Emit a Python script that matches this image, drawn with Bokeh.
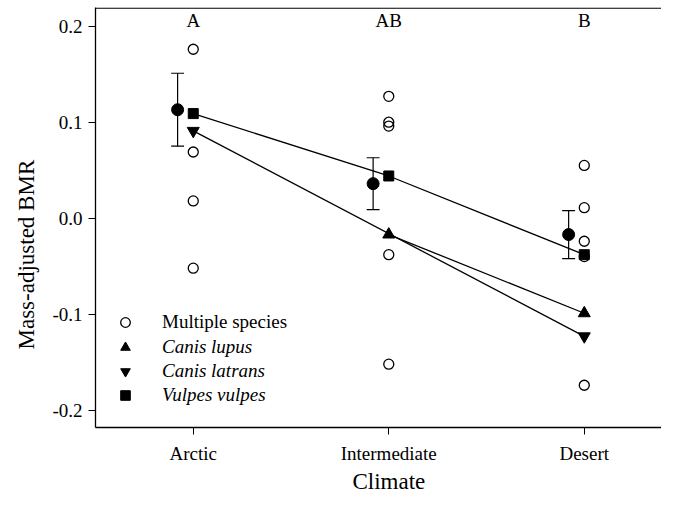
from bokeh.plotting import figure
from bokeh.models import (Range1d, FixedTicker, Span, Legend, LegendItem, Title)
from bokeh.core.properties import value
from bokeh.embed import file_html
from bokeh.resources import INLINE

FONT = "Liberation Serif"

# ---------------- data ----------------
categories = ["Arctic", "Intermediate", "Desert"]
letters = ["A", "AB", "B"]

arctic_multi = [0.176, 0.069, 0.018, -0.052]
intermediate_multi = [0.127, 0.100, 0.096, -0.038, -0.152]
desert_multi = [0.055, 0.011, -0.024, -0.040, -0.174]

mean_vals = [0.113, 0.036, -0.017]
mean_upper = [0.151, 0.063, 0.008]
mean_lower = [0.075, 0.009, -0.042]

lupus_cats = ["Intermediate", "Desert"]
lupus_vals = [-0.017, -0.099]
latrans_cats = ["Arctic", "Desert"]
latrans_vals = [0.091, -0.123]
vulpes_cats = ["Arctic", "Intermediate", "Desert"]
vulpes_vals = [0.109, 0.044, -0.038]

y_tick_values = [-0.2, -0.1, 0.0, 0.1, 0.2]
y_tick_labels = ["-0.2", "-0.1", "0.0", "0.1", "0.2"]

# ---------------- layout constants ----------------
MEAN_OFFSET = -0.08
CAP_HALF = 0.033
LETTER_Y = 0.206
Y_TOP = 0.2195

pos = {c: i for i, c in enumerate(categories)}

p = figure(width=661, height=493, output_backend="svg", toolbar_location=None,
           x_range=Range1d(-0.5, 2.395), y_range=Range1d(-0.218, Y_TOP),
           min_border_left=95, min_border_right=0, min_border_top=7,
           min_border_bottom=65)
p.outline_line_color = None
p.grid.visible = False
p.background_fill_color = "white"
p.border_fill_color = "white"

xa = p.xaxis[0]
ya = p.yaxis[0]
xa.ticker = FixedTicker(ticks=list(range(len(categories))))
xa.major_label_overrides = {i: c for i, c in enumerate(categories)}
ya.ticker = FixedTicker(ticks=y_tick_values)
ya.major_label_overrides = dict(zip(y_tick_values, y_tick_labels))
for ax in (xa, ya):
    ax.axis_line_width = 1.3
    ax.axis_line_color = "black"
    ax.major_tick_line_width = 1.0
    ax.major_tick_line_color = "black"
    ax.major_tick_out = 7
    ax.major_tick_in = 0
    ax.minor_tick_line_color = None
    ax.major_label_text_font = FONT
    ax.major_label_text_font_size = "19px"
    ax.major_label_text_color = "black"
    ax.major_label_text_font_style = "normal"
xa.major_label_standoff = 8
ya.major_label_standoff = 6

# top frame line
p.add_layout(Span(location=Y_TOP - 0.0007, dimension="width", line_color="black",
                  line_width=1.3))

# axis titles as side titles
p.add_layout(Title(text="Climate", align="left", offset=257, vertical_align="bottom",
                   standoff=0, text_font=FONT, text_font_size="23px",
                   text_font_style="normal", text_color="black"), "below")
p.add_layout(Title(text="Mass-adjusted BMR", align="left", offset=78,
                   vertical_align="middle", standoff=20,
                   text_font=FONT, text_font_size="23px", text_font_style="normal",
                   text_color="black"), "left")

# lines
p.line(x=[pos[c] for c in vulpes_cats], y=vulpes_vals, line_color="black", line_width=1.3)
p.line(x=[pos[c] for c in latrans_cats], y=latrans_vals, line_color="black", line_width=1.3)
p.line(x=[pos[c] for c in lupus_cats], y=lupus_vals, line_color="black", line_width=1.3)

# multiple species open circles
mx, my = [], []
for cat, vals in zip(categories, [arctic_multi, intermediate_multi, desert_multi]):
    mx += [pos[cat]] * len(vals)
    my += vals
r_multi = p.scatter(x=mx, y=my, marker="circle", size=10, fill_color=None,
                    line_color="black", line_width=1.3)

# means with error bars
ex = [pos[c] + MEAN_OFFSET for c in categories]
p.segment(x0=ex, y0=mean_lower, x1=ex, y1=mean_upper, line_color="black", line_width=1.2)
p.segment(x0=[x - CAP_HALF for x in ex], y0=mean_upper,
          x1=[x + CAP_HALF for x in ex], y1=mean_upper, line_color="black", line_width=1.2)
p.segment(x0=[x - CAP_HALF for x in ex], y0=mean_lower,
          x1=[x + CAP_HALF for x in ex], y1=mean_lower, line_color="black", line_width=1.2)
p.scatter(x=ex, y=mean_vals, marker="circle", size=12,
          fill_color="black", line_color="black")

r_lupus = p.scatter(x=[pos[c] for c in lupus_cats], y=lupus_vals, marker="triangle",
                    size=12, fill_color="black", line_color="black")
r_latrans = p.scatter(x=[pos[c] for c in latrans_cats], y=latrans_vals,
                      marker="inverted_triangle", size=12, fill_color="black",
                      line_color="black")
r_vulpes = p.scatter(x=[pos[c] for c in vulpes_cats], y=vulpes_vals, marker="square",
                     size=10, fill_color="black", line_color="black")

# significance letters
p.text(x=list(range(len(categories))), y=[LETTER_Y] * len(letters), text=letters,
       text_font=value(FONT), text_font_size="19px", text_align="center",
       text_baseline="alphabetic", text_color="black")

# legends
common = dict(border_line_color=None, background_fill_alpha=0, padding=0, margin=0,
              spacing=0, glyph_width=24, glyph_height=24, label_height=24,
              label_standoff=25, label_text_font=FONT, label_text_font_size="19px",
              label_text_color="black")
leg1 = Legend(items=[LegendItem(label="Multiple species", renderers=[r_multi])],
              location=(18, 93), **common)
leg2 = Legend(items=[LegendItem(label="Canis lupus", renderers=[r_lupus]),
                     LegendItem(label="Canis latrans", renderers=[r_latrans]),
                     LegendItem(label="Vulpes vulpes", renderers=[r_vulpes])],
              location=(18, 20), label_text_font_style="italic", **common)
p.add_layout(leg1)
p.add_layout(leg2)

open("out.html", "w").write(file_html(p, INLINE))
